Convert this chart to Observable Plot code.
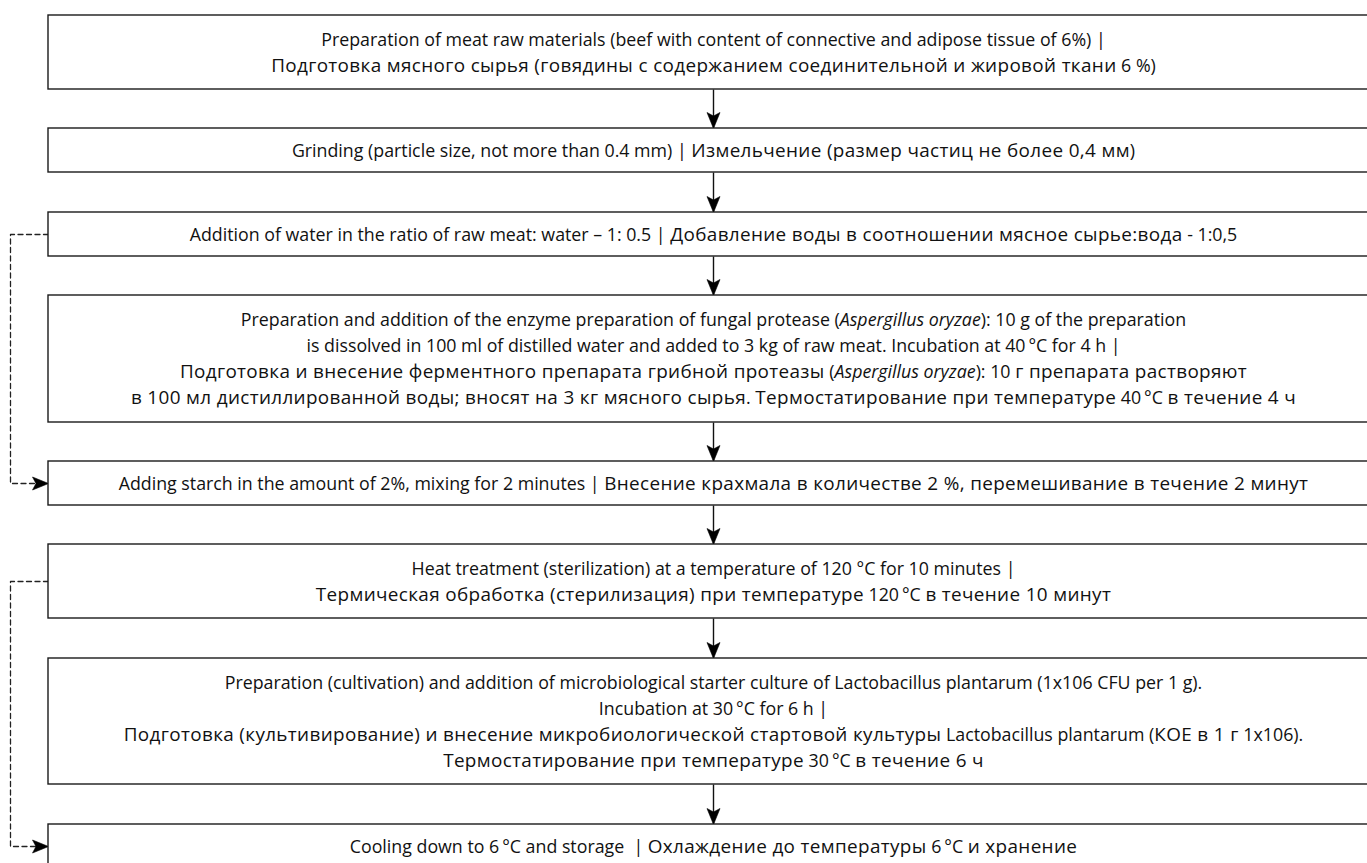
<!DOCTYPE html>
<html><head><meta charset="utf-8">
<script src="https://cdn.jsdelivr.net/npm/d3@7"></script>
<script src="https://cdn.jsdelivr.net/npm/@observablehq/plot@0.6"></script>
<style>html,body{margin:0;padding:0;background:#fff;overflow:hidden} svg{display:block}</style>
</head><body><div id="chart"></div>
<script>
// Flowchart steps (text)
const steps = [
  "Preparation of meat raw materials (beef with content of connective and adipose tissue of 6%) |\nПодготовка мясного сырья (говядины с содержанием соединительной и жировой ткани 6 %)",
  "Grinding (particle size, not more than 0.4 mm) | Измельчение (размер частиц не более 0,4 мм)",
  "Addition of water in the ratio of raw meat: water – 1: 0.5 | Добавление воды в соотношении мясное сырье:вода - 1:0,5",
  "Preparation and addition of the enzyme preparation of fungal protease (Aspergillus oryzae): 10 g of the preparation\nis dissolved in 100 ml of distilled water and added to 3 kg of raw meat. Incubation at 40\u2009°C for 4 h |\nПодготовка и внесение ферментного препарата грибной протеазы (Aspergillus oryzae): 10 г препарата растворяют\nв 100 мл дистиллированной воды; вносят на 3 кг мясного сырья. Термостатирование при температуре 40\u2009°C в течение 4 ч",
  "Adding starch in the amount of 2%, mixing for 2 minutes | Внесение крахмала в количестве 2 %, перемешивание в течение 2 минут",
  "Heat treatment (sterilization) at a temperature of 120 °C for 10 minutes |\nТермическая обработка (стерилизация) при температуре 120\u2009°C в течение 10 минут",
  "Preparation (cultivation) and addition of microbiological starter culture of Lactobacillus plantarum (1x106 CFU per 1 g).\nIncubation at 30\u2009°C for 6 h |\nПодготовка (культивирование) и внесение микробиологической стартовой культуры Lactobacillus plantarum (КОЕ в 1 г 1x106).\nТермостатирование при температуре 30\u2009°C в течение 6 ч",
  "Cooling down to 6\u2009°C and storage \u00a0| Охлаждение до температуры 6\u2009°C и хранение"
];
// Layout of the flowchart (box top / bottom edges)
const boxTop    = [15, 128, 212, 295, 461, 544, 658, 824];
const boxBottom = [89, 172, 256, 422, 505, 618, 784, 868];
// Dashed feedback links: [from step index, to step index]
const feedback = [[2, 4], [5, 7]];
const italicTerms = ["Aspergillus oryzae"];

const W = 1367, H = 863, left = 48, right = 1378, cx = 713, loopX = 10;
const FONT = "'Open Sans', 'Noto Sans', sans-serif";
const FS = 17.8, FS_CYR = 18.9;

const boxes = steps.map((text, i) => ({text, y1: boxTop[i], y2: boxBottom[i]}));
const arrows = d3.range(steps.length - 1).map(i => ({y1: boxBottom[i], y2: boxTop[i + 1]}));
const loopPts = feedback.flatMap(([a, b], k) => {
  const ya = (boxTop[a] + boxBottom[a]) / 2, yb = (boxTop[b] + boxBottom[b]) / 2;
  return [{k, x: left, y: ya}, {k, x: loopX, y: ya}, {k, x: loopX, y: yb}, {k, x: left - 12, y: yb}];
});
const loopHeads = feedback.map(([a, b]) => ({y: (boxTop[b] + boxBottom[b]) / 2}));

const downHead = {draw(ctx) { ctx.moveTo(0, 0); ctx.lineTo(-6.5, -16); ctx.lineTo(0, -12.5); ctx.lineTo(6.5, -16); ctx.closePath(); }};
const rightHead = {draw(ctx) { ctx.moveTo(0, 0); ctx.lineTo(-16, -6.5); ctx.lineTo(-12.5, 0); ctx.lineTo(-16, 6.5); ctx.closePath(); }};

const chart = Plot.plot({
  width: W, height: H, margin: 0,
  x: {domain: [0, W], range: [0, W], axis: null},
  y: {domain: [0, H], range: [0, H], axis: null},
  style: {fontFamily: FONT, background: "#fff", overflow: "hidden"},
  marks: [
    Plot.line(loopPts, {x: "x", y: "y", z: "k", stroke: "#222", strokeWidth: 1.3, strokeDasharray: "5,3.5", curve: "linear"}),
    Plot.dot(loopHeads, {x: () => left, y: "y", symbol: rightHead, fill: "#000", stroke: "#000", strokeWidth: 0.6, r: 5}),
    Plot.link(arrows, {x1: () => cx, x2: () => cx, y1: "y1", y2: "y2", stroke: "#111", strokeWidth: 1.4}),
    Plot.dot(arrows, {x: () => cx, y: "y2", symbol: downHead, fill: "#000", stroke: "#000", strokeWidth: 0.6, r: 5}),
    Plot.rect(boxes, {x1: () => left, x2: () => right, y1: "y1", y2: "y2", fill: "white", stroke: "#1a1a1a", strokeWidth: 1.4}),
    Plot.text(boxes, {x: () => cx, y: d => (d.y1 + d.y2) / 2, text: "text", lineAnchor: "middle", textAnchor: "middle",
      fontSize: FS, lineHeight: 26 / FS, dy: -2, fill: "#111", fontFamily: FONT})
  ]
});
chart.setAttribute("overflow", "hidden");
document.getElementById("chart").appendChild(chart);

// restyle runs inside each text line: italic species names, Cyrillic runs set a little wider (wider face in original)
const SVGNS = "http://www.w3.org/2000/svg";
const cyrRun = /([\u0400-\u04FF]+(?:[\s,;:()\-\u2009\u00a0%0-9]+[\u0400-\u04FF]+)*)/g;
chart.querySelectorAll("text tspan, text").forEach(node => {
  if (node.children.length) return;
  const s = node.textContent;
  let parts = [{t: s, italic: false}];
  for (const term of italicTerms) {
    parts = parts.flatMap(p => {
      if (p.italic) return [p];
      const i = p.t.indexOf(term);
      if (i < 0) return [p];
      return [{t: p.t.slice(0, i), italic: false}, {t: term, italic: true}, {t: p.t.slice(i + term.length), italic: false}];
    });
  }
  node.textContent = "";
  for (const p of parts) {
    p.t.split(cyrRun).forEach((seg, j) => {
      if (!seg) return;
      const ts = document.createElementNS(SVGNS, "tspan");
      if (p.italic) ts.setAttribute("font-style", "italic");
      if (j % 2 === 1) { ts.setAttribute("font-size", FS_CYR); ts.setAttribute("letter-spacing", "0.35"); }
      ts.textContent = seg;
      node.appendChild(ts);
    });
  }
});
</script></body></html>
